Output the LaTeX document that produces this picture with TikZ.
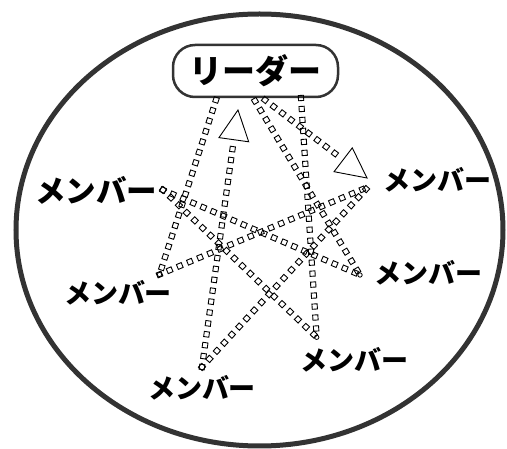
\documentclass[tikz,border=0pt]{standalone}
\usepackage{fontspec}
\newfontfamily\jp{Noto Sans CJK JP}
\usetikzlibrary{decorations.markings,calc}
\tikzset{
  sqline/.style={decorate,decoration={markings,
    mark=between positions 0 and 1 step 11pt with {\draw[black,line width=0.9pt] (-2.6pt,-2.6pt) rectangle (2.6pt,2.6pt);}}},
  tri/.style={draw=black,line width=0.9pt,line join=miter},
  member/.style={font=\jp\bfseries\fontsize{27}{27}\selectfont,inner sep=0pt,anchor=center},
  endring/.style={draw=black,line width=0.8pt},
}
\begin{document}
\begin{tikzpicture}[x=1pt,y=-1pt]
\useasboundingbox (0,0) rectangle (507,449);
% outer ellipse
\draw[line width=5pt,draw=black!80] (259.5,230) ellipse [x radius=243.5pt, y radius=216pt];
% leader
\node[draw=black!80,line width=2.5pt,rounded corners=22pt,minimum width=165pt,minimum height=52pt,inner sep=0pt,
      font=\jp\bfseries\fontsize{33}{33}\selectfont] (leader) at (255.5,71) {\raisebox{-6pt}{リーダー}};
% members
\node[member,font=\jp\bfseries\fontsize{30.5}{30.5}\selectfont] (m1) at (96,190) {メンバー};
\node[member] (m2) at (118,293) {メンバー};
\node[member] (m3) at (202,388) {メンバー};
\node[member] (m4) at (354,360) {メンバー};
\node[member] (m5) at (428,273) {メンバー};
\node[member] (m6) at (437,180) {メンバー};
% connection points
\coordinate (l1) at (216,100);
\coordinate (lt) at (238,110);
\coordinate (l3) at (255,101);
\coordinate (l4) at (265,100);
\coordinate (l5) at (301,98);
\coordinate (m1p) at (163,190);
\coordinate (m2p) at (159.5,274.5);
\coordinate (m3p) at (202,367);
\coordinate (m4p) at (316.7,337.3);
\coordinate (m5p) at (360,275);
\coordinate (m6p) at (368,187);
\coordinate (m6t) at (367,178);
% plain connectors
\path[sqline] (l1) -- (m2p);
\path[sqline] (l3) -- (m5p);
\path[sqline] (l5) -- (m4p);
\path[sqline] (m1p) -- (m4p);
\path[sqline] (m1p) -- (m5p);
\path[sqline] (m2p) -- (m6p);
\path[sqline] (m3p) -- (m6p);
% arrow member3 -> leader
\coordinate (b1) at ($(lt)!30pt!(m3p)$);
\path[sqline] (m3p) -- (b1);
\draw[tri] ($(b1)!15pt!90:(lt)$) -- (lt) -- ($(b1)!15pt!-90:(lt)$) -- cycle;
% arrow leader -> member6
\coordinate (b2) at ($(m6t)!30pt!(l4)$);
\path[sqline] (l4) -- (b2);
\draw[tri] ($(b2)!15pt!90:(m6t)$) -- (m6t) -- ($(b2)!15pt!-90:(m6t)$) -- cycle;
% small end rings
\draw[endring] (m2p) circle [radius=2.2pt];
\draw[endring] (m4p) circle [radius=2.2pt];
\draw[endring] (m5p) circle [radius=2.2pt];
\end{tikzpicture}
\end{document}
